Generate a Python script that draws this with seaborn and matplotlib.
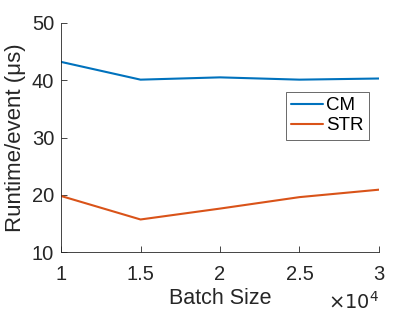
import pandas as pd
import matplotlib
matplotlib.use("Agg")
import matplotlib.pyplot as plt
import seaborn as sns
from matplotlib.ticker import FuncFormatter

batch_size = [10000, 15000, 20000, 25000, 30000]
cm_runtime = [43.2, 40.1, 40.5, 40.1, 40.3]
str_runtime = [19.8, 15.7, 17.6, 19.6, 20.9]
series_names = ["CM", "STR"]
colors = ["#0072BD", "#D95319"]

df = pd.DataFrame({
    "Batch Size": batch_size * 2,
    "Runtime": cm_runtime + str_runtime,
    "Method": ["CM"] * len(batch_size) + ["STR"] * len(batch_size),
})

sns.set_style("white")
plt.rcParams["font.family"] = ["Liberation Sans", "DejaVu Sans"]

fig = plt.figure(figsize=(4.07, 3.14), dpi=100)
ax = fig.add_axes([0.150, 0.197, 0.781, 0.730])

sns.lineplot(data=df, x="Batch Size", y="Runtime", hue="Method",
             hue_order=series_names, palette=colors, linewidth=1.5, ax=ax)

ax.set_xlim(10000, 30000)
ax.set_ylim(10, 50)
ax.set_xticks([10000, 15000, 20000, 25000, 30000])
ax.set_yticks([10, 20, 30, 40, 50])
ax.xaxis.set_major_formatter(FuncFormatter(lambda v, p: f"{v / 1e4:g}"))

ax.set_xlabel("Batch Size", fontsize=15.5, color="#262626", labelpad=3)
ax.set_ylabel("Runtime/event (\u03bcs)", fontsize=16, color="#262626", labelpad=4)
ax.tick_params(axis="both", direction="in", length=4, width=0.6,
               labelsize=14.5, colors="#262626", bottom=True, left=True)
ax.tick_params(axis="x", pad=9)
ax.tick_params(axis="y", pad=5)

for side in ["top", "right"]:
    ax.spines[side].set_visible(False)
for side in ["left", "bottom"]:
    ax.spines[side].set_color("#262626")
    ax.spines[side].set_linewidth(0.6)

ax.text(1.0, -0.17, r"$\times10^{4}$", transform=ax.transAxes,
        ha="right", va="top", fontsize=14, color="#262626",
        math_fontfamily="dejavusans")

leg = ax.legend(loc="upper left", bbox_to_anchor=(0.707, 0.70), fontsize=13.5,
                frameon=True, fancybox=False, edgecolor="#262626",
                handlelength=1.7, handletextpad=0.15, borderpad=0.3,
                labelspacing=0.15, borderaxespad=0)
leg.get_frame().set_linewidth(0.6)
for t in leg.get_texts():
    t.set_color("black")

fig.savefig("out.png", dpi=100)
